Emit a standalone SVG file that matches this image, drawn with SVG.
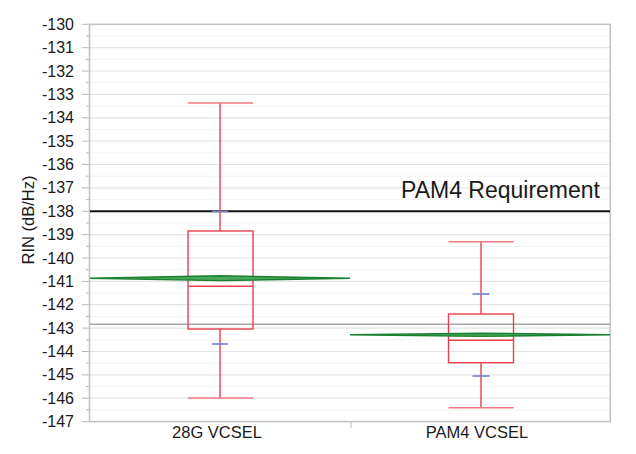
<svg xmlns="http://www.w3.org/2000/svg" width="636" height="454" viewBox="0 0 636 454">
<style>
.lbl{font-family:"Liberation Sans",Arial,sans-serif;font-size:16px;fill:#1a1a1a}
.big{font-size:23px}
.mid{font-size:16.5px}
.ytl{text-anchor:end}
.major{stroke:#e4e4e4;stroke-width:1.2}
.minor{stroke:#f3f3f3;stroke-width:1}
.tick{stroke:#b8b8b8;stroke-width:1}
.box{fill:none;stroke:#e8404c;stroke-width:1.4}
.whisk{stroke:#e8404c;stroke-width:1.4}
.cap{stroke:#f07880;stroke-width:1.6}
.blue{stroke:#7080cc;stroke-width:1.6}
.diam{fill:#4aa85a;stroke:#1a8030;stroke-width:1.4}
</style>
<rect width="636" height="454" fill="#ffffff"/>
<g id="grid">
<line class="minor" x1="90" x2="610" y1="36" y2="36"/>
<line class="minor" x1="90" x2="610" y1="59.4" y2="59.4"/>
<line class="minor" x1="90" x2="610" y1="82.7" y2="82.7"/>
<line class="minor" x1="90" x2="610" y1="106.1" y2="106.1"/>
<line class="minor" x1="90" x2="610" y1="129.5" y2="129.5"/>
<line class="minor" x1="90" x2="610" y1="152.8" y2="152.8"/>
<line class="minor" x1="90" x2="610" y1="176.2" y2="176.2"/>
<line class="minor" x1="90" x2="610" y1="199.6" y2="199.6"/>
<line class="minor" x1="90" x2="610" y1="223" y2="223"/>
<line class="minor" x1="90" x2="610" y1="246.3" y2="246.3"/>
<line class="minor" x1="90" x2="610" y1="269.7" y2="269.7"/>
<line class="minor" x1="90" x2="610" y1="293.1" y2="293.1"/>
<line class="minor" x1="90" x2="610" y1="316.4" y2="316.4"/>
<line class="minor" x1="90" x2="610" y1="339.8" y2="339.8"/>
<line class="minor" x1="90" x2="610" y1="363.2" y2="363.2"/>
<line class="minor" x1="90" x2="610" y1="386.5" y2="386.5"/>
<line class="minor" x1="90" x2="610" y1="409.9" y2="409.9"/>
<line class="major" x1="90" x2="610" y1="47.7" y2="47.7"/>
<line class="major" x1="90" x2="610" y1="71" y2="71"/>
<line class="major" x1="90" x2="610" y1="94.4" y2="94.4"/>
<line class="major" x1="90" x2="610" y1="117.8" y2="117.8"/>
<line class="major" x1="90" x2="610" y1="141.2" y2="141.2"/>
<line class="major" x1="90" x2="610" y1="164.5" y2="164.5"/>
<line class="major" x1="90" x2="610" y1="187.9" y2="187.9"/>
<line class="major" x1="90" x2="610" y1="234.6" y2="234.6"/>
<line class="major" x1="90" x2="610" y1="258" y2="258"/>
<line class="major" x1="90" x2="610" y1="281.4" y2="281.4"/>
<line class="major" x1="90" x2="610" y1="304.7" y2="304.7"/>
<line class="major" x1="90" x2="610" y1="328.1" y2="328.1"/>
<line class="major" x1="90" x2="610" y1="351.5" y2="351.5"/>
<line class="major" x1="90" x2="610" y1="374.9" y2="374.9"/>
<line class="major" x1="90" x2="610" y1="398.2" y2="398.2"/>
</g>
<g id="axes">
<rect x="89.5" y="24.3" width="520.8" height="397.3" fill="none" stroke="#c4c4c4" stroke-width="1.6"/>
<g class="tick">
<line x1="82" x2="89" y1="24.3" y2="24.3"/><line x1="82" x2="89" y1="47.7" y2="47.7"/><line x1="82" x2="89" y1="71" y2="71"/><line x1="82" x2="89" y1="94.4" y2="94.4"/><line x1="82" x2="89" y1="117.8" y2="117.8"/><line x1="82" x2="89" y1="141.2" y2="141.2"/><line x1="82" x2="89" y1="164.5" y2="164.5"/><line x1="82" x2="89" y1="187.9" y2="187.9"/><line x1="82" x2="89" y1="211.3" y2="211.3"/><line x1="82" x2="89" y1="234.6" y2="234.6"/><line x1="82" x2="89" y1="258" y2="258"/><line x1="82" x2="89" y1="281.4" y2="281.4"/><line x1="82" x2="89" y1="304.7" y2="304.7"/><line x1="82" x2="89" y1="328.1" y2="328.1"/><line x1="82" x2="89" y1="351.5" y2="351.5"/><line x1="82" x2="89" y1="374.9" y2="374.9"/><line x1="82" x2="89" y1="398.2" y2="398.2"/><line x1="82" x2="89" y1="421.6" y2="421.6"/>
<line x1="86" x2="89" y1="36" y2="36"/><line x1="86" x2="89" y1="59.4" y2="59.4"/><line x1="86" x2="89" y1="82.7" y2="82.7"/><line x1="86" x2="89" y1="106.1" y2="106.1"/><line x1="86" x2="89" y1="129.5" y2="129.5"/><line x1="86" x2="89" y1="152.8" y2="152.8"/><line x1="86" x2="89" y1="176.2" y2="176.2"/><line x1="86" x2="89" y1="199.6" y2="199.6"/><line x1="86" x2="89" y1="223" y2="223"/><line x1="86" x2="89" y1="246.3" y2="246.3"/><line x1="86" x2="89" y1="269.7" y2="269.7"/><line x1="86" x2="89" y1="293.1" y2="293.1"/><line x1="86" x2="89" y1="316.4" y2="316.4"/><line x1="86" x2="89" y1="339.8" y2="339.8"/><line x1="86" x2="89" y1="363.2" y2="363.2"/><line x1="86" x2="89" y1="386.5" y2="386.5"/><line x1="86" x2="89" y1="409.9" y2="409.9"/>
<line x1="351" x2="351" y1="422" y2="428"/>
</g>
</g>
<g id="y-labels" class="lbl ytl">
<text x="74" y="29.8">-130</text>
<text x="74" y="53.2">-131</text>
<text x="74" y="76.5">-132</text>
<text x="74" y="99.9">-133</text>
<text x="74" y="123.3">-134</text>
<text x="74" y="146.7">-135</text>
<text x="74" y="170">-136</text>
<text x="74" y="193.4">-137</text>
<text x="74" y="216.8">-138</text>
<text x="74" y="240.1">-139</text>
<text x="74" y="263.5">-140</text>
<text x="74" y="286.9">-141</text>
<text x="74" y="310.2">-142</text>
<text x="74" y="333.6">-143</text>
<text x="74" y="357">-144</text>
<text x="74" y="380.4">-145</text>
<text x="74" y="403.7">-146</text>
<text x="74" y="427.1">-147</text>
</g>
<text id="y-title" class="lbl mid" x="0" y="0" text-anchor="middle" transform="translate(34 220) rotate(-90)">RIN (dB/Hz)</text>
<g id="grand-mean"><line x1="90" x2="610" y1="324.3" y2="324.3" stroke="#a8a8a8" stroke-width="1.4"/></g>
<g id="requirement">
<line x1="90" x2="610" y1="211.3" y2="211.3" stroke="#111111" stroke-width="2"/>
<text class="lbl big" x="600" y="198" text-anchor="end">PAM4 Requirement</text>
</g>
<g id="box-28g">
<line class="whisk" x1="220" x2="220" y1="103" y2="231"/>
<line class="whisk" x1="220" x2="220" y1="329" y2="398"/>
<line class="cap" x1="188" x2="253" y1="103" y2="103"/>
<line class="cap" x1="188" x2="253" y1="398" y2="398"/>
<rect class="box" x="188" y="231" width="65" height="98"/>
<line class="whisk" x1="188" x2="253" y1="286.3" y2="286.3"/>
<line class="blue" x1="212" x2="228" y1="211.5" y2="211.5"/>
<line class="blue" x1="212" x2="228" y1="344" y2="344"/>
<polygon class="diam" points="90,278.2 220,275.8 350,278.2 220,280.6"/>
</g>
<g id="box-pam4">
<line class="whisk" x1="481" x2="481" y1="241.7" y2="314"/>
<line class="whisk" x1="481" x2="481" y1="362.7" y2="407.7"/>
<line class="cap" x1="448.5" x2="513.5" y1="241.7" y2="241.7"/>
<line class="cap" x1="448.5" x2="513.5" y1="407.7" y2="407.7"/>
<rect class="box" x="448.5" y="314" width="65" height="48.7"/>
<line class="whisk" x1="448.5" x2="513.5" y1="340.3" y2="340.3"/>
<line class="blue" x1="472.5" x2="489.5" y1="294" y2="294"/>
<line class="blue" x1="472.5" x2="489.5" y1="376" y2="376"/>
<polygon class="diam" points="350,334.8 481,333.2 610,334.8 481,336.4"/>
</g>
<g id="x-labels" class="lbl mid" text-anchor="middle">
<text x="217" y="438">28G VCSEL</text>
<text x="477" y="438">PAM4 VCSEL</text>
</g>
</svg>
